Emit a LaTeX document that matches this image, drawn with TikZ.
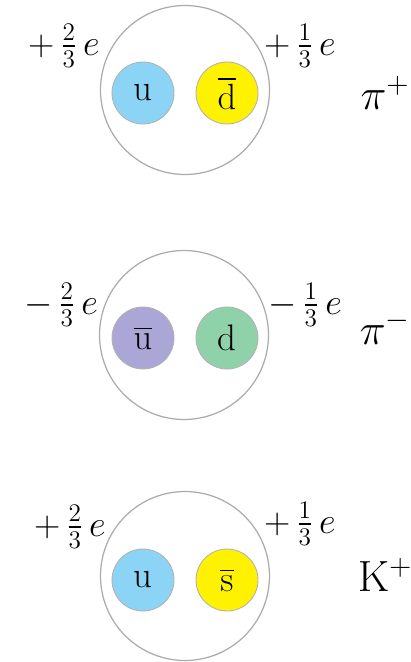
\documentclass[tikz,border=0pt]{standalone}
\usepackage{amsmath}
\usetikzlibrary{positioning}
\definecolor{qblue}{HTML}{8CD4F5}
\definecolor{qyellow}{HTML}{FFF200}
\definecolor{qpurple}{HTML}{AAA6D6}
\definecolor{qgreen}{HTML}{8FD1A8}
\definecolor{rim}{HTML}{ABABAB}

\begin{document}
\begin{tikzpicture}[
    x=0.02cm, y=-0.02cm,
    every node/.style={font=\fontsize{21}{25}\selectfont},
    hadron/.style={circle, draw=rim, line width=0.7pt, minimum size=3.38cm, inner sep=0pt},
    quark/.style={circle, draw=black!30, line width=0.5pt, minimum size=1.24cm, inner sep=0pt},
    charge/.style={inner sep=1pt, font=\fontsize{22}{26}\selectfont},
    tag/.style={inner sep=1pt, font=\fontsize{26}{30}\selectfont},
]
\useasboundingbox (0,0) rectangle (410,662);

% ================================================================ pi plus
\node[hadron] (pip) at (185,90) {};
\node[quark, fill=qblue] (pipA) at (143,93) {u};
\node[quark, fill=qyellow] (pipB) at (227,93) {$\overline{\mathrm{d}}$};
\node[charge] (pipAc) at (64,46) {$+\,\tfrac{2}{3}\,e$};
\node[charge] (pipBc) at (300,46) {$+\,\tfrac{1}{3}\,e$};
\node[tag] (pipname) at (385,93) {$\pi^{+}$};

% ================================================================ pi minus
\node[hadron] (pim) at (184,335) {};
\node[quark, fill=qpurple] (pimA) at (143,338) {$\overline{\mathrm{u}}$};
\node[quark, fill=qgreen] (pimB) at (227,338) {d};
\node[charge] (pimAc) at (61,305) {$-\,\tfrac{2}{3}\,e$};
\node[charge] (pimBc) at (305,305) {$-\,\tfrac{1}{3}\,e$};
\node[tag] (pimname) at (385,328) {$\pi^{-}$};

% ================================================================ K plus
\node[hadron] (kp) at (185,576) {};
\node[quark, fill=qblue] (kpA) at (143,580) {u};
\node[quark, fill=qyellow] (kpB) at (227,580) {$\overline{\mathrm{s}}$};
\node[charge] (kpAc) at (70,527) {$+\,\tfrac{2}{3}\,e$};
\node[charge] (kpBc) at (300,524) {$+\,\tfrac{1}{3}\,e$};
\node[tag] (kpname) at (385,575) {$\mathrm{K}^{+}$};

\end{tikzpicture}
\end{document}
